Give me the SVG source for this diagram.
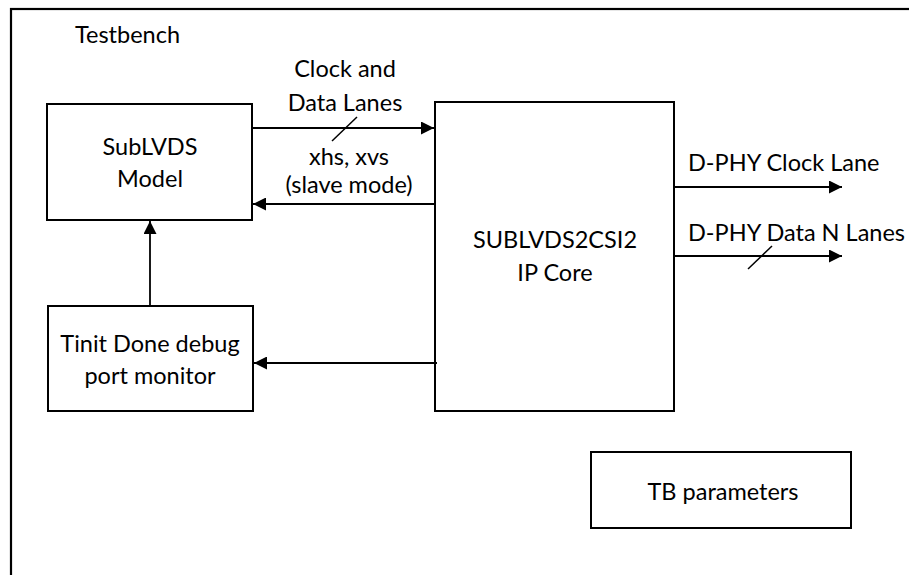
<svg xmlns="http://www.w3.org/2000/svg" width="909" height="575" viewBox="0 0 909 575">
<style>
  .box { fill: #ffffff; stroke: #000000; stroke-width: 2; }
  .frame { fill: #ffffff; stroke: #000000; stroke-width: 2.2; }
  .lbl { font-family: Lato, "Liberation Sans", sans-serif; font-size: 23.5px; fill: #000000; }
  .mid { text-anchor: middle; }
  .conn { fill: none; stroke: #000000; stroke-width: 1.8; }
  .tick { fill: none; stroke: #000000; stroke-width: 1.5; }
</style>
<defs>
  <marker id="arr" markerUnits="userSpaceOnUse" markerWidth="14" markerHeight="13" refX="13" refY="6.5" orient="auto">
    <path d="M0,0 L13,6.5 L0,13 Z" fill="#000000"/>
  </marker>
</defs>
<g id="testbench">
  <rect class="frame" x="11" y="9" width="920" height="600"/>
  <text class="lbl" x="75" y="43">Testbench</text>
</g>
<g id="sublvds-model">
  <rect class="box" x="47" y="104" width="205" height="116"/>
  <text class="lbl mid" x="150" y="155">SubLVDS</text>
  <text class="lbl mid" x="150" y="187">Model</text>
</g>
<g id="tinit-monitor">
  <rect class="box" x="48" y="306" width="205" height="105"/>
  <text class="lbl mid" x="150" y="352">Tinit Done debug</text>
  <text class="lbl mid" x="150" y="384">port monitor</text>
</g>
<g id="ip-core">
  <rect class="box" x="435" y="102" width="239" height="309"/>
  <text class="lbl mid" x="555" y="248">SUBLVDS2CSI2</text>
  <text class="lbl mid" x="555" y="281">IP Core</text>
</g>
<g id="tb-parameters">
  <rect class="box" x="591" y="452" width="260" height="76"/>
  <text class="lbl mid" x="723" y="500">TB parameters</text>
</g>
<g id="connectors">
  <line class="conn" x1="252" y1="128" x2="434" y2="128" marker-end="url(#arr)"/>
  <line class="tick" x1="332" y1="141" x2="357" y2="117"/>
  <line class="conn" x1="435" y1="204" x2="253" y2="204" marker-end="url(#arr)"/>
  <line class="conn" x1="150" y1="306" x2="150" y2="221" marker-end="url(#arr)"/>
  <line class="conn" x1="437" y1="363" x2="254" y2="363" marker-end="url(#arr)"/>
  <line class="conn" x1="674" y1="187" x2="842" y2="187" marker-end="url(#arr)"/>
  <line class="conn" x1="674" y1="256" x2="842" y2="256" marker-end="url(#arr)"/>
  <line class="tick" x1="748" y1="269" x2="772" y2="246"/>
  <text class="lbl mid" x="345" y="77">Clock and</text>
  <text class="lbl mid" x="345" y="111">Data Lanes</text>
  <text class="lbl mid" x="349" y="165">xhs, xvs</text>
  <text class="lbl mid" x="349" y="193">(slave mode)</text>
  <text class="lbl" x="688" y="171">D-PHY Clock Lane</text>
  <text class="lbl" x="688" y="241">D-PHY Data N Lanes</text>
</g>
</svg>
